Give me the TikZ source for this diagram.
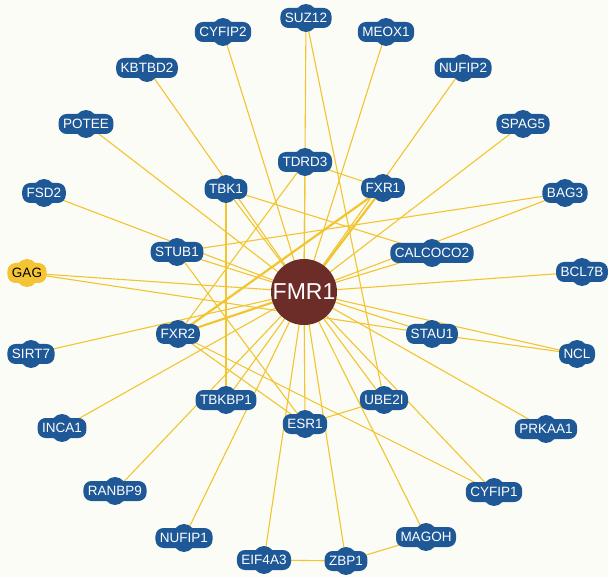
\documentclass[tikz,border=0pt]{standalone}
\usepackage{fontspec}
\setmainfont{Liberation Sans}
\definecolor{nblue}{RGB}{30,88,150}
\definecolor{edgey}{RGB}{242,196,48}
\definecolor{fmrc}{RGB}{108,44,40}
\definecolor{gagc}{RGB}{245,196,52}
\definecolor{bgc}{RGB}{252,252,247}
\pgfdeclarelayer{bg}
\pgfsetlayers{bg,main}
\tikzset{
  gene/.style={fill=nblue, text=white, rounded corners=8pt, minimum height=20pt,
    inner xsep=4.5pt, inner ysep=0pt, font=\fontsize{13.5}{14}\selectfont},
  hub/.style={circle, fill=fmrc, text=white, minimum size=66pt, inner sep=0pt,
    font=\fontsize{23}{25}\selectfont},
  edge/.style={draw=edgey, line width=1.1pt},
  heavy/.style={draw=edgey, line width=2.2pt},
}
\newcommand\gn[4]{\fill[nblue] (#2,#3) ellipse (12pt and 14pt);
  \node[gene] (#1) at (#2,#3) {#4};}
\begin{document}
\begin{tikzpicture}[x=1pt,y=-1pt]
\useasboundingbox (0,0) rectangle (608,577);
\node[hub] (fmr) at (304,292) {FMR1};
\gn{suz}{306}{18}{SUZ12}
\gn{cyfipb}{223}{32}{CYFIP2}
\gn{meox}{386}{32}{MEOX1}
\gn{kbt}{147}{68}{KBTBD2}
\gn{nufipb}{463}{68}{NUFIP2}
\gn{potee}{86}{124}{POTEE}
\gn{spag}{523}{124}{SPAG5}
\gn{tdrd}{305}{162}{TDRD3}
\gn{tbk}{226}{189}{TBK1}
\gn{fxra}{383}{188}{FXR1}
\gn{fsd}{44}{193}{FSD2}
\gn{bag}{565}{193}{BAG3}
\gn{stub}{177}{252}{STUB1}
\gn{calc}{432}{253}{CALCOCO2}
\fill[gagc] (27,273) ellipse (12pt and 14pt);
\node[gene, fill=gagc, text=black] (gag) at (27,273) {GAG};
\gn{bcl}{582}{272}{BCL7B}
\gn{fxrb}{178}{334}{FXR2}
\gn{stau}{432}{334}{STAU1}
\gn{sirt}{31}{354}{SIRT7}
\gn{ncl}{577}{354}{NCL}
\gn{tbkbp}{226}{400}{TBKBP1}
\gn{ube}{384}{400}{UBE2I}
\gn{esr}{305}{424}{ESR1}
\gn{inca}{62}{428}{INCA1}
\gn{prk}{546}{429}{PRKAA1}
\gn{ranbp}{115}{491}{RANBP9}
\gn{cyfipa}{494}{492}{CYFIP1}
\gn{nufipa}{184}{538}{NUFIP1}
\gn{magoh}{426}{537}{MAGOH}
\gn{eif}{264}{560}{EIF4A3}
\gn{zbp}{346}{561}{ZBP1}
\begin{pgfonlayer}{bg}
\fill[bgc] (0,0) rectangle (608,577);
\foreach \n in {suz,cyfipb,meox,kbt,nufipb,potee,spag,tdrd,tbk,fsd,bag,stub,calc,gag,bcl,stau,sirt,ncl,tbkbp,ube,esr,inca,prk,ranbp,cyfipa,nufipa,magoh,eif,zbp}
  \draw[edge] (fmr.center) -- (\n.center);
\draw[heavy] (fmr.center) -- (fxra.center);
\draw[heavy] (fmr.center) -- (fxrb.center);
\draw[heavy] (fxra.center) -- (fxrb.center);
\draw[edge] (tbk.center) -- (tbkbp.center);
\draw[edge] (suz.center) -- (ube.center);
\draw[edge] (tdrd.center) -- (fxra.center);
\draw[edge] (tdrd.center) -- (fxrb.center);
\draw[edge] (tbk.center) -- (calc.center);
\draw[edge] (bag.center) -- (stub.center);
\draw[edge] (gag.center) -- (stau.center);
\draw[edge] (ncl.center) -- (stau.center);
\draw[edge] (cyfipa.center) -- (fxrb.center);
\draw[edge] (fxrb.center) -- (esr.center);
\draw[edge] (stub.center) -- (esr.center);
\draw[edge] (esr.center) -- (ube.center);
\draw[edge] (eif.center) -- (zbp.center);
\draw[edge] (zbp.center) -- (magoh.center);
\end{pgfonlayer}
\end{tikzpicture}
\end{document}
